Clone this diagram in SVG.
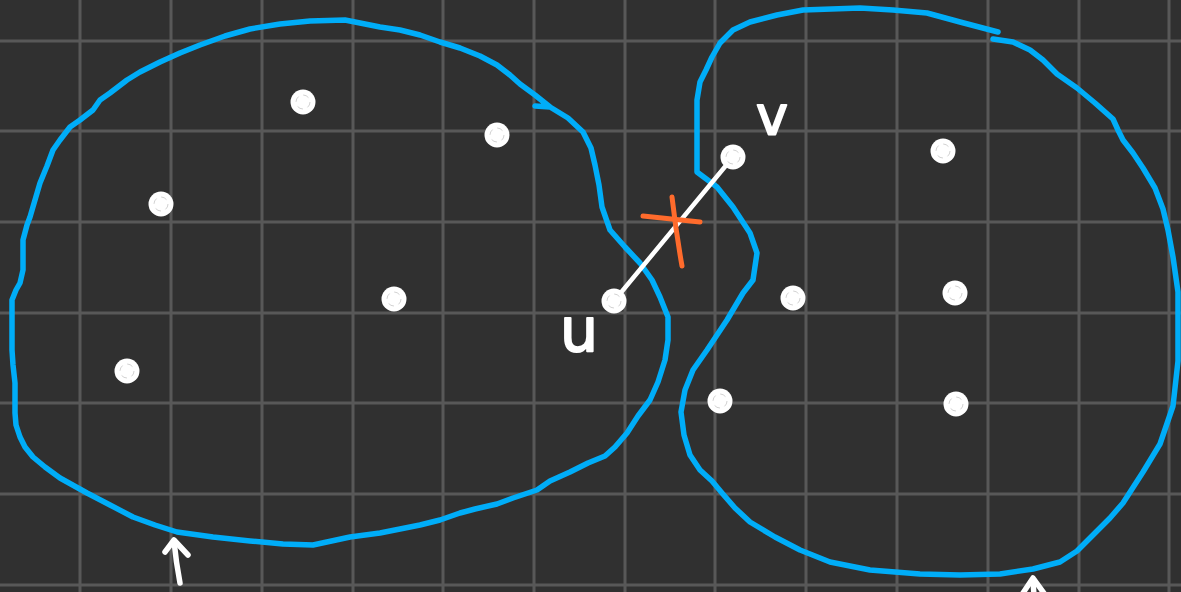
<svg xmlns="http://www.w3.org/2000/svg" width="1181" height="592" viewBox="0 0 1181 592">
<style>
.grid{stroke:#585858;stroke-width:3}
.blob{fill:none;stroke:#00adf8;stroke-width:5.5;stroke-linejoin:round;stroke-linecap:round}
.dot{fill:#ffffff}
.dotin{fill:none;stroke:#d2d2d2;stroke-width:1;stroke-dasharray:6 5}
.ink{fill:none;stroke:#ffffff;stroke-width:5.5;stroke-linecap:round;stroke-linejoin:round}
.edge{stroke:#ffffff;stroke-width:4.5;stroke-linecap:round}
.cross{fill:none;stroke:#ff6b2c;stroke-width:5;stroke-linecap:round}
.lbl{font-family:"DejaVu Sans",sans-serif;fill:#ffffff;stroke:#ffffff;stroke-width:2;stroke-linejoin:round;text-anchor:middle}
</style>
<rect width="1181" height="592" fill="#303030"/>
<g id="grid">
<path class="grid" d="M80,0V592M171,0V592M262,0V592M353,0V592M443,0V592M534,0V592M625,0V592M715,0V592M806,0V592M897,0V592M988,0V592M1079,0V592M1169,0V592"/>
<path class="grid" d="M0,41H1181M0,131H1181M0,222H1181M0,313H1181M0,403H1181M0,494H1181M0,585H1181"/>
</g>
<g id="blob-left">
<polyline class="blob" points="535,106 550,107 568,118 583,132 591,148 595,165 599,185 602,207 610,230 625,247 640,263 652,280 660,297 668,317 668,340 665,360 658,382 650,400 638,416 627,433 615,447 605,456 588,463 570,472 550,481 537,490 513,498 497,504 475,509 460,513 440,520 420,525 400,529 380,533 350,537 313,545 283,544 250,541 213,537 177,532 155,525 133,517 110,505 87,493 60,478 45,467 33,457 25,447 20,437 16,425 15,413 15,400 15,383 13,365 12,350 12,330 12,300 16,290 20,283 23,270 23,255 23,240 27,225 30,217 35,200 40,183 47,166 53,150 60,140 70,127 80,120 93,110 100,100 110,93 127,80 140,72 160,62 180,53 200,45 225,36 250,29 280,24 310,21 345,20 380,27 400,30 420,35 440,42 460,48 480,56 497,65 510,75 520,84 535,95 550,107"/>
</g>
<g id="blob-right">
<polyline class="blob" points="993,39 1013,42 1030,50 1043,60 1057,74 1077,88 1095,103 1113,119 1118,130 1123,140 1133,153 1143,168 1155,188 1163,209 1168,230 1173,257 1178,292 1178,330 1178,361 1173,406 1160,444 1143,472 1123,503 1110,518 1097,531 1077,551 1060,562 1033,569 1000,574 960,575 920,574 870,570 830,562 800,550 775,537 750,522 735,508 722,493 712,481 700,470 690,455 684,435 681,412 685,390 693,370 707,350 727,320 743,293 753,280 757,253 750,233 733,207 717,187 697,172 697,150 697,120 697,100 700,82 706,70 712,57 720,43 733,30 750,22 777,15 803,10 860,8 893,10 927,13 960,22 998,32"/>
</g>
<g id="connectors">
<line id="edge-u-v" class="edge" x1="614" y1="301" x2="733" y2="157"/>
</g>
<g id="cut-mark">
<path class="cross" d="M643,216 Q672,219 700,222"/>
<path class="cross" d="M672,197 Q676,232 682,266"/>
</g>
<g id="node-a"><circle class="dot" cx="303" cy="102" r="12.5"/><circle class="dotin" cx="303" cy="102" r="7"/></g>
<g id="node-b"><circle class="dot" cx="497" cy="135" r="12.5"/><circle class="dotin" cx="497" cy="135" r="7"/></g>
<g id="node-c"><circle class="dot" cx="161" cy="204" r="12.5"/><circle class="dotin" cx="161" cy="204" r="7"/></g>
<g id="node-d"><circle class="dot" cx="394" cy="299" r="12.5"/><circle class="dotin" cx="394" cy="299" r="7"/></g>
<g id="node-e"><circle class="dot" cx="127" cy="371" r="12.5"/><circle class="dotin" cx="127" cy="371" r="7"/></g>
<g id="node-u"><circle class="dot" cx="614" cy="301" r="12.5"/><circle class="dotin" cx="614" cy="301" r="7"/><text class="lbl" x="579" y="351" font-size="60">u</text></g>
<g id="node-v"><circle class="dot" cx="733" cy="157" r="12.5"/><circle class="dotin" cx="733" cy="157" r="7"/><text class="lbl" x="772" y="134" font-size="54">v</text></g>
<g id="node-f"><circle class="dot" cx="943" cy="151" r="12.5"/><circle class="dotin" cx="943" cy="151" r="7"/></g>
<g id="node-g"><circle class="dot" cx="793" cy="298" r="12.5"/><circle class="dotin" cx="793" cy="298" r="7"/></g>
<g id="node-h"><circle class="dot" cx="955" cy="293" r="12.5"/><circle class="dotin" cx="955" cy="293" r="7"/></g>
<g id="node-i"><circle class="dot" cx="720" cy="401" r="12.5"/><circle class="dotin" cx="720" cy="401" r="7"/></g>
<g id="node-j"><circle class="dot" cx="956" cy="404" r="12.5"/><circle class="dotin" cx="956" cy="404" r="7"/></g>
<g id="arrow-left">
<path class="ink" d="M180,583 Q176,562 174,541"/>
<path class="ink" d="M165,552 L174,540 L188,555"/>
</g>
<g id="arrow-right">
<path class="ink" d="M1033,580 L1034,596"/>
<path class="ink" d="M1021,596 L1033,578 L1046,596"/>
</g>
</svg>
